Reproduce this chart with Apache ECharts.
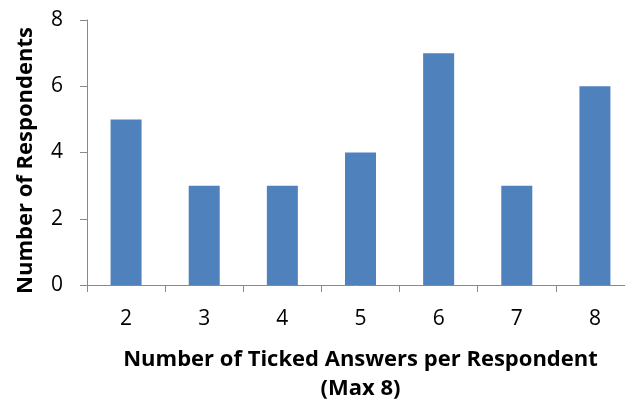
<!DOCTYPE html>
<html>
<head>
<meta charset="utf-8">
<script src="https://cdn.jsdelivr.net/npm/echarts@6/dist/echarts.min.js"></script>
<style>
  html, body { margin: 0; padding: 0; background: #ffffff; }
  #chart { width: 625px; height: 402px; }
</style>
</head>
<body>
<div id="chart"></div>
<script>
// Respondents grouped by how many answers they ticked (out of 8)
const categories = ['2', '3', '4', '5', '6', '7', '8'];
const respondents = [5, 3, 3, 4, 7, 3, 6];
const yTicks = { min: 0, max: 8, interval: 2 };

const xTitle = 'Number of Ticked Answers per Respondent\n(Max 8)';
const yTitle = 'Number of Respondents';

const FONT = '"Open Sans", Lato, sans-serif';
const AXIS_COLOR = '#898989';

const chart = echarts.init(document.getElementById('chart'), null, { renderer: 'canvas' });

chart.setOption({
  backgroundColor: '#ffffff',
  animation: false,
  grid: {
    left: 87, right: -9, top: 20, bottom: 117,
    containLabel: false,
    outerBoundsMode: 'none'
  },
  xAxis: {
    type: 'category',
    data: categories,
    boundaryGap: true,
    axisLine: { show: true, lineStyle: { color: AXIS_COLOR, width: 1 } },
    axisTick: { show: true, length: 7, interval: 0, alignWithLabel: false, lineStyle: { color: AXIS_COLOR } },
    axisLabel: { color: '#000000', fontFamily: FONT, fontSize: 21, margin: 24 },
    splitLine: { show: false },
    name: xTitle,
    nameLocation: 'middle',
    nameGap: 60,
    nameTextStyle: { color: '#000000', fontFamily: FONT, fontWeight: 'bold', fontSize: 22, lineHeight: 29 }
  },
  yAxis: {
    type: 'value',
    min: yTicks.min,
    max: yTicks.max,
    interval: yTicks.interval,
    axisLine: { show: true, lineStyle: { color: AXIS_COLOR, width: 1 } },
    axisTick: { show: true, length: 7, lineStyle: { color: AXIS_COLOR } },
    axisLabel: { color: '#000000', fontFamily: FONT, fontSize: 21, margin: 24 },
    splitLine: { show: false },
    name: yTitle,
    nameLocation: 'middle',
    nameRotate: 90,
    nameGap: 50,
    nameTextStyle: { color: '#000000', fontFamily: FONT, fontWeight: 'bold', fontSize: 22, padding: [0, 16, 0, 0] }
  },
  series: [{
    type: 'bar',
    data: respondents,
    barWidth: 31,
    itemStyle: { color: '#4F81BD' }
  }]
});
</script>
</body>
</html>
